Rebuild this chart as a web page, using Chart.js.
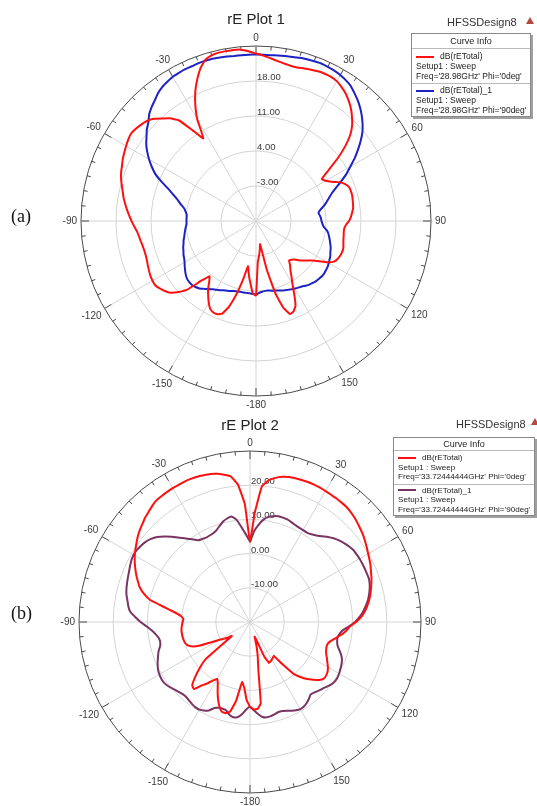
<!DOCTYPE html>
<html>
<head>
<meta charset="utf-8">
<script src="https://cdn.jsdelivr.net/npm/chart.js@4.4.0/dist/chart.umd.min.js"></script>
<style>
    body { margin: 0; width: 537px; height: 806px; overflow: hidden; background: #fff; font-family: Arial, "Liberation Sans", sans-serif; }
    .panel { position: absolute; left: 0; width: 537px; height: 403px; }
    .panel canvas { position: absolute; left: 0; top: 0; }
    .title { position: absolute; width: 200px; text-align: center; font-size: 15px; line-height: 18px; color: #222; }
    .design { position: absolute; font-size: 11px; line-height: 13px; color: #333; }
    .tri { position: absolute; width: 0; height: 0; border-left: 4px solid transparent; border-right: 4px solid transparent; border-bottom: 7px solid #b8473c; }
    .info { position: absolute; background: #fff; border: 1px solid #888; box-shadow: 2px 2px 0 #a0a0a0; font-size: 8.5px; color: #222; white-space: nowrap; }
    .info .hd { text-align: center; border-bottom: 1px solid #bbb; font-size: 9px; }
    .info .entry { padding: 2px 4px 2px 4px; }
    .info .entry + .entry { border-top: 1px solid #bbb; padding-top: 1px; padding-bottom: 1px; }
    .swatch { display: inline-block; width: 18px; height: 2px; vertical-align: middle; margin-right: 6px; }
    .tag { position: absolute; font-family: "Liberation Serif", "Times New Roman", serif; font-size: 18px; line-height: 20px; color: #111; }
</style>
</head>
<body>

<div class="panel" style="top:403px">
    <canvas id="plot2" width="537" height="403"></canvas>
    <div class="title" style="left:150px; top:13px;">rE Plot 2</div>
    <div class="design" style="left:456px; top:15px;">HFSSDesign8</div>
    <div class="tri" style="left:531px; top:15px;"></div>
    <div class="info" style="left:393px; top:34px; width:140px; line-height:9.5px; font-size:8.1px;">
        <div class="hd" style="height:12px; line-height:12px;">Curve Info</div>
        <div class="entry">
            <div><span class="swatch" style="background:#ff1010"></span>dB(rETotal)</div>
            <div>Setup1 : Sweep</div>
            <div>Freq='33.72444444GHz' Phi='0deg'</div>
        </div>
        <div class="entry">
            <div><span class="swatch" style="background:#7a3462"></span>dB(rETotal)_1</div>
            <div>Setup1 : Sweep</div>
            <div>Freq='33.72444444GHz' Phi='90deg'</div>
        </div>
    </div>
</div>

<div class="panel" style="top:0; height:420px;">
    <canvas id="plot1" width="537" height="420"></canvas>
    <div class="title" style="left:156px; top:10px;">rE Plot 1</div>
    <div class="design" style="left:447px; top:16px;">HFSSDesign8</div>
    <div class="tri" style="left:526px; top:17px;"></div>
    <div class="info" style="left:411px; top:33px; width:118px; line-height:10px;">
        <div class="hd" style="height:14px; line-height:14px;">Curve Info</div>
        <div class="entry">
            <div><span class="swatch" style="background:#ff1010"></span>dB(rETotal)</div>
            <div>Setup1 : Sweep</div>
            <div>Freq='28.98GHz' Phi='0deg'</div>
        </div>
        <div class="entry">
            <div><span class="swatch" style="background:#1c22c4"></span>dB(rETotal)_1</div>
            <div>Setup1 : Sweep</div>
            <div>Freq='28.98GHz' Phi='90deg'</div>
        </div>
    </div>
</div>

<div class="tag" style="left:11px; top:206px;">(a)</div>
<div class="tag" style="left:11px; top:603px;">(b)</div>

<script>
// theta in 2.5 deg steps, clockwise from the top (0 .. 357.5, i.e. 180.. = -180..)
const angles = Array.from({ length: 144 }, (_, i) => i * 2.5);
const angleLabels = angles.map(a => String(a > 180 ? a - 360 : a));
const angleTicks = ['0', '30', '60', '90', '120', '150', '-180', '-150', '-120', '-90', '-60', '-30'];

// rE Plot 1, Freq 28.98GHz, dB(rETotal); each row is 30 deg
const plot1Phi0 = [
    23.5, 23.1, 22.7, 22.3, 22.0, 21.8, 21.8, 22.0, 22.2, 22.4, 22.5, 22.5,
    22.3, 21.8, 21.2, 20.4, 19.5, 18.4, 17.2, 15.6, 13.3, 10.6, 7.7, 5.6,
    6.1, 7.0, 8.4, 9.3, 9.8, 9.9, 9.9, 9.8, 9.7, 9.6, 9.3, 9.0,
    8.6, 8.0, 7.7, 7.7, 7.8, 7.9, 8.1, 8.3, 8.3, 8.2, 8.0, 7.6,
    6.5, 5.0, 3.8, 3.0, 2.3, 1.6, 0.9, 0.5, 0.3, 1.2, 2.0, 3.2,
    4.6, 6.6, 8.7, 9.6, 9.8, 8.2, 5.0, 0.0, -5.3, -4.2, -3.0, -1.8,
    4.9, 4.5, 2.6, 0.9, -0.8, 2.0, 5.2, 8.0, 9.7, 10.2, 10.2, 9.8,
    8.9, 7.8, 6.7, 5.4, 4.4, 6.2, 9.4, 11.0, 12.3, 13.0, 13.5, 13.9,
    13.9, 13.8, 13.6, 13.4, 13.2, 13.1, 13.1, 13.2, 13.4, 13.6, 13.9, 14.4,
    14.9, 15.4, 15.9, 16.4, 16.9, 17.3, 17.8, 18.3, 18.7, 19.0, 19.4, 19.7,
    20.0, 20.3, 20.5, 20.3, 20.0, 19.6, 18.9, 17.8, 16.8, 15.4, 12.2, 9.6,
    13.5, 16.3, 18.7, 20.7, 22.5, 23.8, 24.3, 24.5, 24.5, 24.5, 24.4, 24.0
];
const plot1Phi90 = [
    23.3, 23.3, 23.3, 23.4, 23.5, 23.6, 23.8, 23.9, 24.0, 24.1, 24.0, 23.9,
    23.7, 23.4, 23.0, 22.3, 21.6, 20.8, 19.9, 18.9, 17.8, 16.4, 14.9, 13.4,
    11.8, 10.4, 8.8, 7.3, 6.1, 5.3, 4.6, 3.9, 3.1, 2.6, 2.8, 3.0,
    3.1, 3.3, 3.6, 4.3, 4.7, 5.0, 5.3, 5.6, 5.9, 6.1, 6.4, 6.6,
    6.8, 7.0, 7.1, 7.2, 7.2, 7.1, 7.0, 6.8, 6.6, 6.3, 6.0, 5.8,
    5.6, 5.4, 5.2, 5.0, 4.8, 4.6, 4.4, 4.3, 4.1, 4.1, 4.2, 4.4,
    4.7, 4.6, 4.5, 4.5, 4.5, 4.5, 4.6, 4.7, 4.9, 5.1, 5.3, 5.6,
    5.9, 6.2, 6.6, 7.1, 7.6, 7.9, 8.1, 8.1, 8.0, 7.7, 7.3, 6.9,
    6.5, 6.2, 6.0, 5.7, 5.5, 5.2, 5.0, 4.7, 4.5, 4.3, 4.1, 3.9,
    3.9, 3.9, 3.9, 4.2, 4.6, 5.4, 6.2, 7.3, 8.6, 10.4, 12.2, 13.5,
    14.7, 15.8, 16.8, 17.6, 18.5, 19.2, 20.2, 20.9, 21.5, 22.2, 22.7, 23.0,
    23.3, 23.4, 23.5, 23.5, 23.6, 23.6, 23.6, 23.5, 23.4, 23.3, 23.3, 23.3
];

// rE Plot 2, Freq 33.72444444GHz
const plot2Phi0 = [
    3.5, 12.0, 19.8, 21.8, 22.8, 23.5, 23.9, 24.1, 24.2, 24.3, 24.3, 24.3,
    24.2, 24.1, 24.1, 24.0, 23.9, 23.6, 23.2, 22.7, 22.2, 21.7, 21.1, 20.5,
    19.9, 19.4, 18.9, 18.3, 17.8, 17.2, 16.6, 16.0, 15.3, 14.5, 13.6, 12.5,
    11.0, 9.3, 8.3, 7.2, 5.8, 4.6, 3.7, 3.5, 3.7, 4.1, 4.8, 5.5,
    6.3, 6.9, 7.2, 7.2, 6.4, 5.0, 3.6, 1.8, -0.3, -4.5, -7.9, -7.6,
    -7.3, -7.0, -6.8, -9.0, -14.0, -15.5, -12.5, -9.5, -6.0, 4.0, 5.5, 5.6,
    4.8, 2.8, -0.7, -2.3, 3.4, 6.8, 7.6, 7.5, 6.2, 4.4, 2.4, 0.4,
    -0.8, 0.3, 2.0, 3.5, 5.6, 5.0, 2.6, 0.0, -3.0, -13.3, -12.0, -10.8,
    -9.5, -7.0, -3.5, -1.4, -0.4, 0.0, 0.1, 0.2, 0.2, 0.2, 0.1, -0.1,
    -0.3, -0.5, 0.3, 2.4, 5.7, 10.0, 12.2, 13.8, 14.9, 16.0, 17.0, 18.0,
    18.9, 19.7, 20.5, 21.3, 22.0, 22.6, 23.3, 23.8, 24.4, 24.9, 25.0, 25.1,
    25.2, 25.2, 25.3, 25.3, 25.2, 25.0, 24.8, 24.4, 23.7, 22.9, 20.3, 14.5
];
const plot2Phi90 = [
    3.5, 6.5, 8.5, 10.2, 11.2, 11.7, 12.0, 12.0, 11.9, 11.6, 11.3, 11.1,
    11.0, 11.0, 11.3, 11.9, 12.7, 13.7, 14.6, 15.3, 15.9, 16.4, 16.8, 16.9,
    17.0, 17.0, 17.0, 17.0, 17.0, 16.7, 16.2, 15.6, 14.9, 14.0, 13.1, 12.0,
    10.7, 9.0, 7.3, 6.4, 6.0, 6.1, 6.5, 7.4, 8.4, 9.1, 9.5, 9.8,
    10.1, 10.3, 10.3, 10.0, 9.4, 8.8, 8.4, 7.9, 7.6, 8.3, 8.9, 9.3,
    9.4, 9.1, 8.6, 8.1, 7.7, 7.6, 7.9, 8.2, 8.3, 8.0, 7.0, 5.8,
    4.8, 5.6, 7.1, 8.1, 8.3, 7.8, 6.8, 6.6, 6.7, 7.2, 8.6, 9.2,
    9.6, 9.6, 9.4, 9.1, 8.8, 8.8, 9.1, 9.5, 10.0, 10.5, 10.8, 10.8,
    10.6, 10.3, 9.8, 9.2, 8.6, 8.0, 7.2, 6.9, 7.1, 7.8, 8.8, 10.2,
    12.0, 13.6, 15.2, 15.9, 16.4, 17.0, 17.4, 17.7, 18.0, 18.3, 18.7, 19.1,
    19.3, 19.2, 18.9, 18.5, 17.8, 16.8, 15.4, 13.8, 12.2, 10.8, 9.5, 8.3,
    8.0, 7.8, 7.9, 8.1, 8.6, 9.5, 10.4, 11.0, 11.3, 10.2, 7.7, 5.5
];

const PLOT_CONFIG = {
    gridColor: '#d4d4d4',
    frameColor: '#4a4a4a',
    textColor: '#3a3a3a'
};

// outer-ring ticks, angle labels and ring values, all placed from the radial scale
const polarFrame = {
    id: 'polarFrame',
    beforeDatasetsDraw(chart) {
        const r = chart.scales.r;
        const ctx = chart.ctx;
        const R = r.drawingArea;
        ctx.save();
        ctx.strokeStyle = PLOT_CONFIG.frameColor;
        ctx.lineWidth = 1;
        for (let i = 0; i < angles.length; i += 2) {
            const len = i % 12 === 0 ? 8 : 4;
            const a = r.getPointPosition(i, R);
            const b = r.getPointPosition(i, R - len);
            ctx.beginPath();
            ctx.moveTo(a.x, a.y);
            ctx.lineTo(b.x, b.y);
            ctx.stroke();
        }

        ctx.fillStyle = PLOT_CONFIG.textColor;
        ctx.font = '10px Arial';
        ctx.textAlign = 'center';
        ctx.textBaseline = 'middle';
        angleTicks.forEach((txt, k) => {
            const i = k * 12;
            const dir = r.getPointPosition(i, R);
            const w = ctx.measureText(txt).width;
            const gap = 4 + 0.5 * (Math.abs(Math.cos(dir.angle)) * w + Math.abs(Math.sin(dir.angle)) * 9);
            const p = r.getPointPosition(i, R + gap);
            ctx.fillText(txt, p.x, p.y + 0.5);
        });

        ctx.font = '9.5px Arial';
        ctx.textAlign = 'left';
        ctx.textBaseline = 'alphabetic';
        r.ticks.forEach(t => {
            if (t.value === r.min || t.value === r.max) return;
            const d = r.getDistanceFromCenterForValue(t.value);
            ctx.fillText(t.value.toFixed(2), r.xCenter + 1, r.yCenter - d - 1);
        });
        ctx.restore();
    }
};

function makePolar(id, series, range, padding) {
    const ctx = document.getElementById(id).getContext('2d');
    return new Chart(ctx, {
        type: 'radar',
        data: {
            labels: angleLabels,
            datasets: series.map(s => ({
                data: s.data,
                borderColor: s.color,
                borderWidth: 2,
                pointRadius: 0,
                fill: false,
                tension: 0.1
            }))
        },
        options: {
            responsive: false,
            animation: false,
            devicePixelRatio: 1,
            layout: { padding },
            plugins: {
                legend: { display: false },
                tooltip: { enabled: false }
            },
            scales: {
                r: {
                    min: range.min,
                    max: range.max,
                    ticks: { display: false, stepSize: range.step },
                    pointLabels: { display: false },
                    grid: {
                        circular: true,
                        lineWidth: 1,
                        color: c => (c.tick && c.tick.value === range.max) ? PLOT_CONFIG.frameColor : PLOT_CONFIG.gridColor
                    },
                    angleLines: {
                        color: PLOT_CONFIG.gridColor,
                        lineWidth: c => (c.index % 12 === 0 ? 1 : 0)
                    }
                }
            }
        },
        plugins: [polarFrame]
    });
}

makePolar('plot1', [
    { data: plot1Phi0, color: '#ff1010' },
    { data: plot1Phi90, color: '#1c22c4' }
], { min: -10, max: 25, step: 7 }, { left: 81, top: 46, right: 106, bottom: 24 });

makePolar('plot2', [
    { data: plot2Phi0, color: '#ff1010' },
    { data: plot2Phi90, color: '#7a3462' }
], { min: -20, max: 30, step: 10 }, { left: 79, top: 48, right: 116, bottom: 13 });
</script>
</body>
</html>
